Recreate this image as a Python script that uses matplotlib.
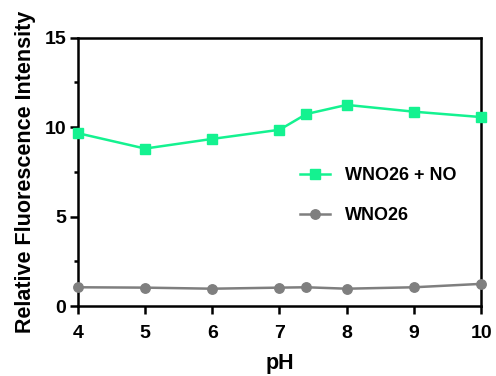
import matplotlib
matplotlib.use("Agg")
import matplotlib.pyplot as plt
from matplotlib.ticker import MultipleLocator

ph = [4, 5, 6, 7, 7.4, 8, 9, 10]
wno26_no = [9.66, 8.80, 9.34, 9.85, 10.73, 11.24, 10.86, 10.56]
wno26 = [1.05, 1.03, 0.97, 1.03, 1.05, 0.97, 1.05, 1.24]
xticks = [4, 5, 6, 7, 8, 9, 10]
yticks = [0, 5, 10, 15]

plt.rcParams['font.family'] = ['Liberation Sans', 'DejaVu Sans']
plt.rcParams['font.weight'] = 'bold'

fig = plt.figure(figsize=(4.96, 3.76), dpi=100)
ax = fig.add_axes([0.157, 0.186, 0.813, 0.714])

ax.plot(ph, wno26_no, color='#14F290', marker='s', markersize=7.7, lw=1.8,
        label='WNO26 + NO', clip_on=False, zorder=3)
ax.plot(ph, wno26, color='#7F7F7F', marker='o', markersize=6.8, lw=1.8,
        label='WNO26', clip_on=False, zorder=3)

ax.set_xlim(4, 10)
ax.set_ylim(0, 15)
ax.set_xticks(xticks)
ax.set_yticks(yticks)
ax.yaxis.set_minor_locator(MultipleLocator(2.5))
for s in ax.spines.values():
    s.set_linewidth(1.8)
ax.tick_params(axis='both', which='major', length=5.5, width=1.8, labelsize=14)
ax.tick_params(axis='x', which='major', pad=8)
ax.tick_params(axis='y', which='major', pad=3)
ax.tick_params(axis='y', which='minor', length=3, width=1.8)
for lab in ax.get_xticklabels() + ax.get_yticklabels():
    lab.set_fontweight('bold')

ax.set_xlabel('pH', fontsize=15.5, fontweight='bold', labelpad=8)
ax.set_ylabel('Relative Fluorescence Intensity', fontsize=15.5, fontweight='bold', labelpad=6)

leg = ax.legend(loc='upper left', bbox_to_anchor=(0.551, 0.518), frameon=False,
                handlelength=1.66, labelspacing=1.3, handletextpad=0.85,
                borderpad=0, borderaxespad=0,
                prop={'weight': 'bold', 'size': 13})

fig.savefig('out.png', dpi=100)
